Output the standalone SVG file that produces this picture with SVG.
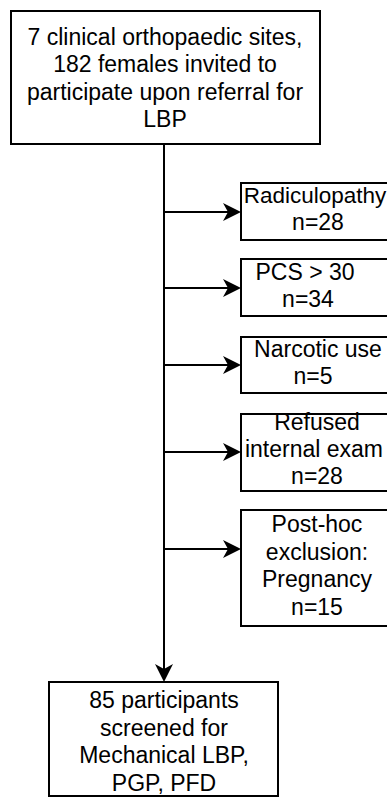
<svg xmlns="http://www.w3.org/2000/svg" width="387" height="798" viewBox="0 0 387 798">
<defs>
<style>
.box{fill:#fff;stroke:#000;stroke-width:2}
.t{font-family:"Liberation Sans",Arial,Helvetica,sans-serif;font-size:23px;fill:#000;text-anchor:middle}
.ln{stroke:#000;stroke-width:2;fill:none}
</style>
<path id="arr" d="M0,0 L-18,-9 L-13,0 L-18,9 Z" fill="#000"/>
</defs>
<rect width="387" height="798" fill="#fff"/>
<g id="connectors">
<line class="ln" x1="164" y1="145" x2="164" y2="670"/>
<use href="#arr" transform="translate(164,682) rotate(90)"/>
<line class="ln" x1="164" y1="212" x2="230" y2="212"/>
<use href="#arr" transform="translate(241,212)"/>
<line class="ln" x1="164" y1="288" x2="230" y2="288"/>
<use href="#arr" transform="translate(241,288)"/>
<line class="ln" x1="164" y1="365" x2="230" y2="365"/>
<use href="#arr" transform="translate(241,365)"/>
<line class="ln" x1="164" y1="452" x2="230" y2="452"/>
<use href="#arr" transform="translate(241,452)"/>
<line class="ln" x1="164" y1="549" x2="230" y2="549"/>
<use href="#arr" transform="translate(241,549)"/>
</g>
<g id="n_start">
<rect class="box" x="11" y="11" width="309" height="133"/>
<text class="t" x="165" y="44.5">7 clinical orthopaedic sites,</text>
<text class="t" x="165" y="72">182 females invited to</text>
<text class="t" x="165" y="99.5">participate upon referral for</text>
<text class="t" x="165" y="127">LBP</text>
</g>
<g id="n_radic">
<rect class="box" x="241" y="183" width="160" height="57"/>
<text class="t" x="315" y="203" style="font-size:22.5px">Radiculopathy</text>
<text class="t" x="318" y="230">n=28</text>
</g>
<g id="n_pcs">
<rect class="box" x="241" y="259" width="160" height="57"/>
<text class="t" x="305" y="280">PCS &gt; 30</text>
<text class="t" x="308" y="306.5">n=34</text>
</g>
<g id="n_narc">
<rect class="box" x="241" y="337" width="160" height="56"/>
<text class="t" x="318" y="357">Narcotic use</text>
<text class="t" x="313" y="383.5">n=5</text>
</g>
<g id="n_refused">
<rect class="box" x="241" y="414" width="160" height="77"/>
<text class="t" x="317" y="430">Refused</text>
<text class="t" x="314" y="457">internal exam</text>
<text class="t" x="317" y="484">n=28</text>
</g>
<g id="n_posthoc">
<rect class="box" x="241" y="510" width="160" height="116"/>
<text class="t" x="317" y="531.5">Post-hoc</text>
<text class="t" x="317" y="559.5">exclusion:</text>
<text class="t" x="317" y="587">Pregnancy</text>
<text class="t" x="317" y="614.5">n=15</text>
</g>
<g id="n_end">
<rect class="box" x="49" y="682" width="229" height="114"/>
<text class="t" x="164" y="708">85 participants</text>
<text class="t" x="164" y="735.5">screened for</text>
<text class="t" x="164" y="763">Mechanical LBP,</text>
<text class="t" x="164" y="790.5">PGP, PFD</text>
</g>
</svg>
